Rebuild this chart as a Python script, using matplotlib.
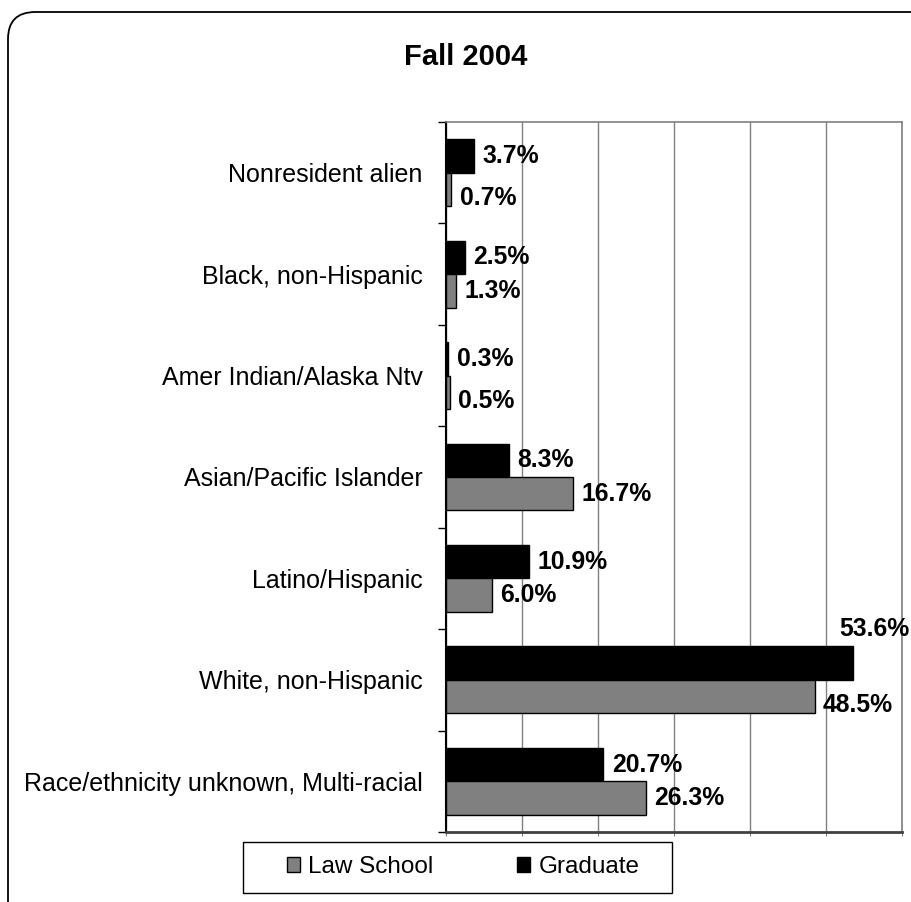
import matplotlib
matplotlib.use("Agg")
import matplotlib.pyplot as plt
import numpy as np
from matplotlib.patches import FancyBboxPatch, Rectangle

plt.rcParams["font.family"] = ["Liberation Sans", "DejaVu Sans"]

categories = [
    "Nonresident alien",
    "Black, non-Hispanic",
    "Amer Indian/Alaska Ntv",
    "Asian/Pacific Islander",
    "Latino/Hispanic",
    "White, non-Hispanic",
    "Race/ethnicity unknown, Multi-racial",
]
law_school = [0.7, 1.3, 0.5, 16.7, 6.0, 48.5, 26.3]
graduate = [3.7, 2.5, 0.3, 8.3, 10.9, 53.6, 20.7]
x_ticks = [0, 10, 20, 30, 40, 50, 60]

W, H = 912, 902
fig = plt.figure(figsize=(W / 100, H / 100), dpi=100)

# rounded outer frame (runs off the right/bottom edge like the original)
frame = FancyBboxPatch(
    (8 / W, -0.03), 1.05 - 8 / W, 1 - 12 / H + 0.03,
    boxstyle="round,pad=0,rounding_size=0.03",
    transform=fig.transFigure, facecolor="white", edgecolor="black",
    linewidth=1.3, clip_on=False, zorder=-10,
)
fig.patches.append(frame)

ax = fig.add_axes([446 / W, 1 - 832 / H, (902 - 446) / W, (832 - 122) / H])
ax.set_facecolor("white")
ax.set_zorder(2)

y = np.arange(len(categories))
h = 0.33
ax.barh(y - h / 2, graduate, height=h, color="black", edgecolor="black",
        linewidth=1, label="Graduate", zorder=3)
ax.barh(y + h / 2, law_school, height=h, color="#808080", edgecolor="black",
        linewidth=1, label="Law School", zorder=3)

ax.set_xlim(0, 60)
ax.set_ylim(len(categories) - 0.5, -0.5)
ax.set_xticks(x_ticks)
ax.set_xticklabels([])
ax.tick_params(axis="x", length=3, color="#808080")
ax.grid(axis="x", color="#808080", linewidth=1, zorder=0)

# boundary ticks without labels, labels centred without ticks
ax.set_yticks(np.arange(len(categories) + 1) - 0.5)
ax.set_yticklabels([])
ax.tick_params(axis="y", which="major", length=6, width=1, color="black")
ax.set_yticks(y, minor=True)
ax.set_yticklabels(categories, minor=True, fontsize=18)
ax.tick_params(axis="y", which="minor", length=0, pad=17)

for side in ["top", "right"]:
    ax.spines[side].set_color("#808080")
    ax.spines[side].set_linewidth(1.2)
ax.spines["left"].set_color("black")
ax.spines["left"].set_linewidth(1.5)
ax.spines["bottom"].set_color("#404040")
ax.spines["bottom"].set_linewidth(2)

lab_kw = dict(fontsize=17.8, fontweight="bold", textcoords="offset points",
              annotation_clip=False)
for i, (g, l) in enumerate(zip(graduate, law_school)):
    if g > 50:
        ax.annotate(f"{g:.1f}%", (g, i - h), xytext=(15, 4), ha="center",
                    va="bottom", **lab_kw)
    else:
        ax.annotate(f"{g:.1f}%", (g, i - h / 2), xytext=(6, 0), ha="left",
                    va="center", **lab_kw)
    dy = -6 if (l < 1 or l > 40) else 0
    ax.annotate(f"{l:.1f}%", (l, i + h / 2), xytext=(6, dy), ha="left",
                va="center", **lab_kw)

fig.text(466 / W, 1 - 57 / H, "Fall 2004", ha="center", va="center",
         fontsize=21, fontweight="bold")

# legend box
fig.patches.append(Rectangle((243 / W, 1 - 893 / H), (672 - 243) / W,
                             (893 - 842) / H, transform=fig.transFigure,
                             facecolor="white", edgecolor="black",
                             linewidth=1, zorder=1))
handles, labels = ax.get_legend_handles_labels()
leg = fig.legend(handles[::-1], labels[::-1], loc="center",
                 bbox_to_anchor=(463 / W, 1 - 867 / H), ncol=2,
                 frameon=False, fontsize=17.5, handlelength=0.55,
                 handleheight=0.55, handletextpad=0.33, columnspacing=3.45)

fig.savefig("out.png", dpi=100, facecolor="white")
